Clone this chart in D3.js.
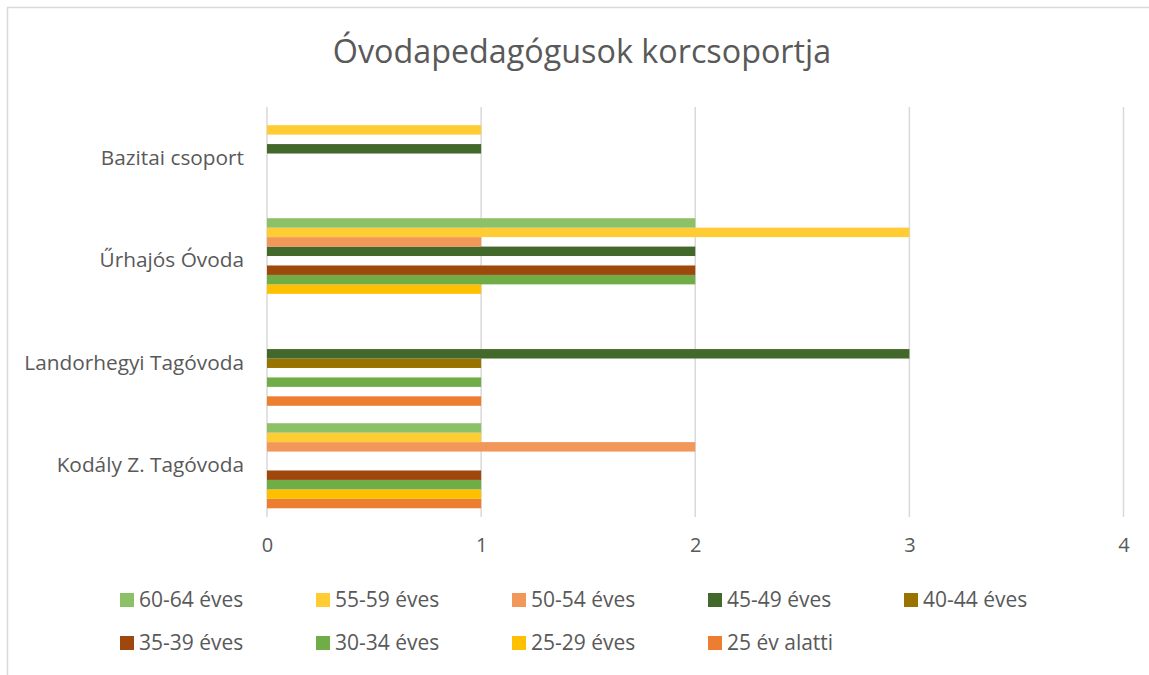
<!DOCTYPE html>
<html>
<head>
<meta charset="utf-8">
<script src="https://cdn.jsdelivr.net/npm/d3@7"></script>
<style>
  body { margin: 0; background: #fff; }
  text { font-family: "Open Sans", sans-serif; fill: #595959; }
</style>
</head>
<body>
<svg width="1149" height="675"></svg>
<script>
const categories = ['Bazitai csoport', 'Űrhajós Óvoda', 'Landorhegyi Tagóvoda', 'Kodály Z. Tagóvoda'];
const seriesNames = ['25 év alatti', '25-29 éves', '30-34 éves', '35-39 éves', '40-44 éves',
                     '45-49 éves', '50-54 éves', '55-59 éves', '60-64 éves'];
const seriesColors = ['#ED7D31', '#FFC000', '#70AD47', '#9E480E', '#997300',
                      '#43682B', '#F1975A', '#FFCD33', '#8CC168'];
// one array per category, in series order
const bazitai = [0, 0, 0, 0, 0, 1, 0, 1, 0];
const urhajos = [0, 1, 2, 2, 0, 2, 1, 3, 2];
const landorhegyi = [1, 0, 1, 0, 1, 3, 0, 0, 0];
const kodaly = [1, 1, 1, 1, 0, 0, 2, 1, 1];
const xTicks = [0, 1, 2, 3, 4];
const legendOrder = ['60-64 éves', '55-59 éves', '50-54 éves', '45-49 éves', '40-44 éves',
                     '35-39 éves', '30-34 éves', '25-29 éves', '25 év alatti'];

const values = [bazitai, urhajos, landorhegyi, kodaly];
const data = [];
categories.forEach((c, i) => {
  seriesNames.forEach((s, j) => data.push({cat: c, series: s, value: values[i][j]}));
});

const svg = d3.select('svg');
const color = d3.scaleOrdinal(seriesNames, seriesColors);

// chart border
svg.append('rect')
  .attr('x', 7.5).attr('y', 7.5)
  .attr('width', 1160).attr('height', 680)
  .attr('fill', 'none').attr('stroke', '#d9d9d9').attr('stroke-width', 1.5);

svg.append('text')
  .attr('x', 582).attr('y', 63)
  .attr('text-anchor', 'middle')
  .style('font-size', '32.3px')
  .text('Óvodapedagógusok korcsoportja');

const x = d3.scaleLinear().domain([0, 4]).range([267, 1123.5]);
const y = d3.scaleBand().domain(categories).range([107, 517])
  .paddingInner(0.17).paddingOuter(0.085);
const ySeries = d3.scaleBand().domain(seriesNames.slice().reverse()).range([0, y.bandwidth()]);

// gridlines
svg.append('g').selectAll('line').data(xTicks).join('line')
  .attr('x1', d => x(d)).attr('x2', d => x(d))
  .attr('y1', 107).attr('y2', 517)
  .attr('stroke', '#d9d9d9').attr('stroke-width', 1.5);

svg.append('g').selectAll('rect').data(data.filter(d => d.value > 0)).join('rect')
  .attr('x', x(0))
  .attr('y', d => y(d.cat) + ySeries(d.series))
  .attr('width', d => x(d.value) - x(0))
  .attr('height', ySeries.bandwidth())
  .attr('fill', d => color(d.series));

// x axis labels
const xAxis = svg.append('g')
  .attr('transform', 'translate(0,534)')
  .call(d3.axisBottom(x).tickValues(xTicks).tickSize(0).tickPadding(0).tickFormat(d3.format('d')));
xAxis.select('.domain').remove();
xAxis.selectAll('text').style('font-size', '20px').attr('dy', '0.88em');

// category labels
const yAxis = svg.append('g')
  .attr('transform', 'translate(244,0)')
  .call(d3.axisLeft(y).tickSize(0).tickPadding(0));
yAxis.select('.domain').remove();
yAxis.selectAll('text').style('font-size', '20.8px');

// legend
const legend = svg.append('g').selectAll('g').data(legendOrder).join('g')
  .attr('transform', (d, i) => `translate(${120 + (i % 5) * 196},${593 + Math.floor(i / 5) * 43})`);
legend.append('rect').attr('width', 14).attr('height', 14).attr('fill', d => color(d));
legend.append('text').attr('x', 19).attr('y', 7).attr('dy', '0.35em')
  .style('font-size', '21px').text(d => d);
</script>
</body>
</html>
